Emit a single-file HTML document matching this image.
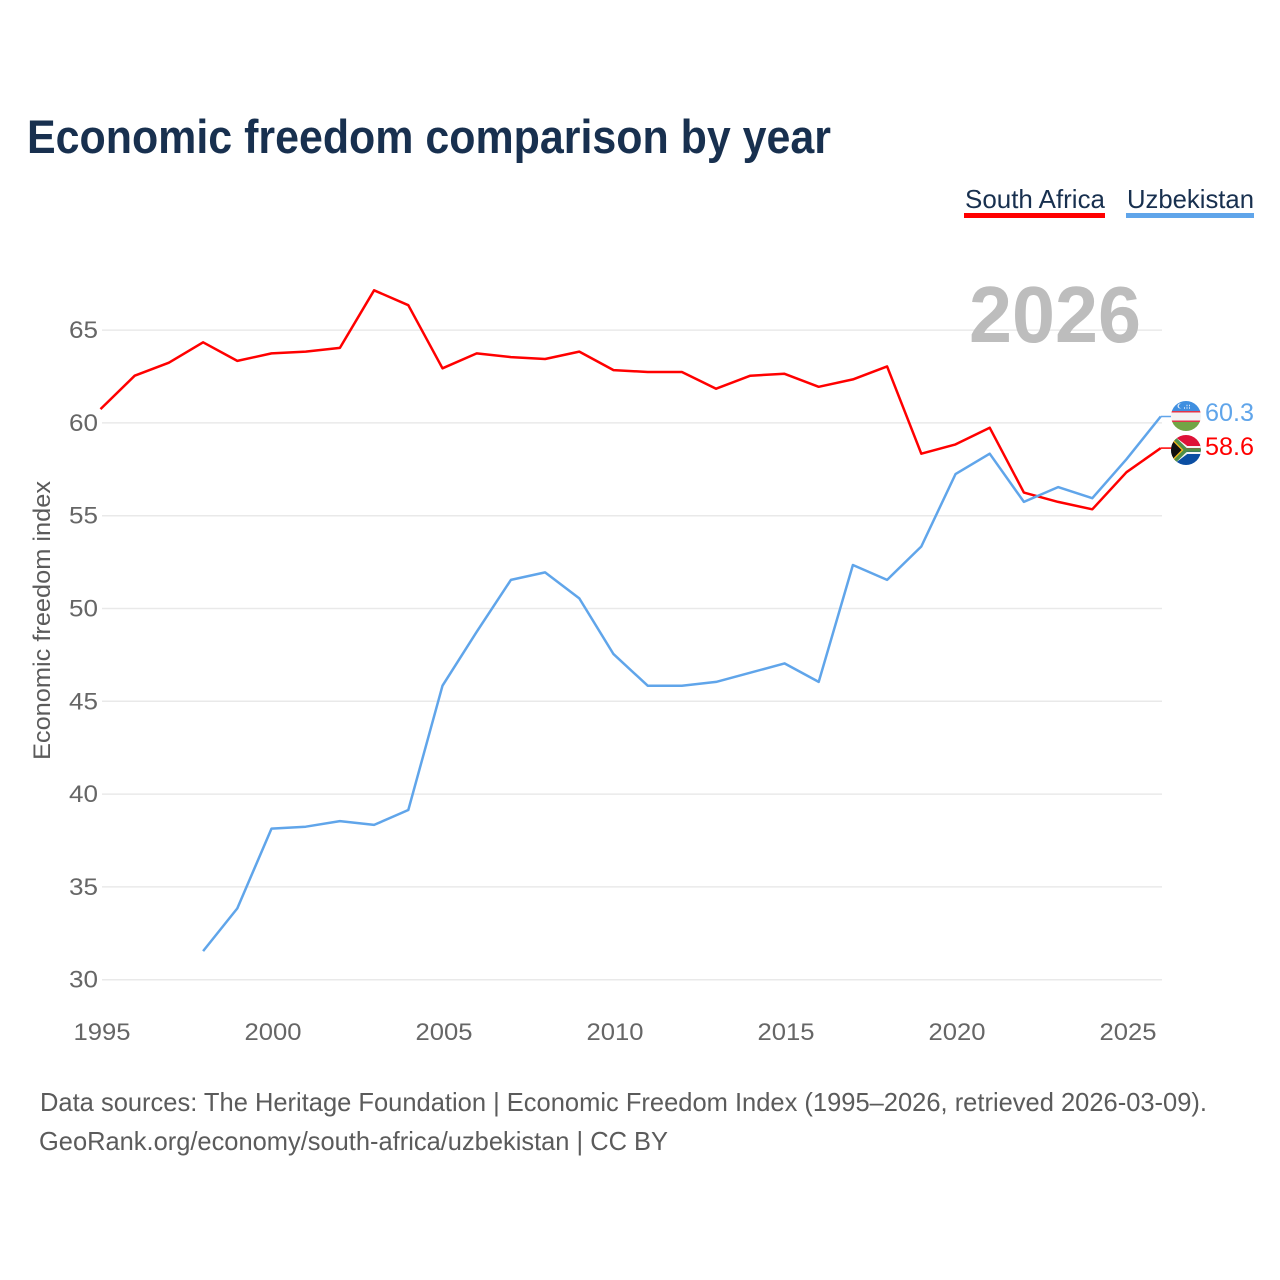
<!DOCTYPE html>
<html lang="en">
<head>
<meta charset="utf-8">
<title>Economic freedom comparison by year</title>
<style>
html,body{margin:0;padding:0;background:#fff;width:1280px;height:1280px;overflow:hidden}
svg{display:block}
text{font-family:"Liberation Sans",sans-serif}
</style>
</head>
<body>
<svg id="chart" width="1280" height="1280" viewBox="0 0 1280 1280" xmlns="http://www.w3.org/2000/svg">
  <defs>
    <clipPath id="clip-uz"><circle cx="1186" cy="416" r="15"/></clipPath>
    <clipPath id="clip-za"><circle cx="1186" cy="450" r="15"/></clipPath>
  </defs>
  <rect x="0" y="0" width="1280" height="1280" fill="#fff"/>
  <text x="27" y="153" font-size="47" font-weight="700" fill="#18304f" textLength="804" lengthAdjust="spacingAndGlyphs">Economic freedom comparison by year</text>

  <g id="grid"></g>
  <g id="yticks"></g>
  <g id="xticks"></g>

  <text transform="translate(50,760) rotate(-90)" font-size="24" fill="#5b5b5b" textLength="279" lengthAdjust="spacingAndGlyphs">Economic freedom index</text>
  <text x="969" y="342" font-size="80" font-weight="700" fill="#bdbdbd" textLength="172" lengthAdjust="spacingAndGlyphs">2026</text>

  <g>
    <g>
      <text x="965" y="208" font-size="26" fill="#18304f" textLength="140" lengthAdjust="spacingAndGlyphs">South Africa</text>
      <rect x="964" y="213" width="141" height="5" fill="#ff0000"/>
    </g>
    <g>
      <text x="1127" y="208" font-size="26" fill="#18304f" textLength="127" lengthAdjust="spacingAndGlyphs">Uzbekistan</text>
      <rect x="1126" y="213" width="128" height="5" fill="#60a5ea"/>
    </g>
  </g>

  <path id="line-za" fill="none" stroke="#ff0000" stroke-width="2.5" stroke-linejoin="round"/>
  <path id="line-uz" fill="none" stroke="#60a5ea" stroke-width="2.5" stroke-linejoin="round"/>
  <path id="conn-za" fill="none" stroke="#ff0000" stroke-width="1.5"/>
  <path id="conn-uz" fill="none" stroke="#60a5ea" stroke-width="1.5"/>

  <g clip-path="url(#clip-uz)">
    <rect x="1171" y="401" width="30" height="10" fill="#3f8fe0"/>
    <rect x="1171" y="411" width="30" height="1.5" fill="#e0354a"/>
    <rect x="1171" y="412.5" width="30" height="8" fill="#f3f3f3"/>
    <rect x="1171" y="420.5" width="30" height="1.5" fill="#e0354a"/>
    <rect x="1171" y="422" width="30" height="10" fill="#72a545"/>
    <circle cx="1180" cy="406" r="2.5" fill="#dfeaf7"/>
    <circle cx="1181" cy="406" r="2.2" fill="#3f8fe0"/>
    <path d="M1184 408h1M1186.5 408h1M1189 408h1M1186.5 405.500h1M1189 405.500h1" stroke="#dfeaf7" stroke-width="1.500"/>
  </g>
  <g clip-path="url(#clip-za)">
    <rect x="1171" y="435" width="30" height="15" fill="#de1238"/>
    <rect x="1171" y="450" width="30" height="15" fill="#0b4ea2"/>
    <path d="M1171 435L1186 450L1171 465Z" fill="#111"/>
    <path d="M1171 438L1183 450L1171 462" fill="none" stroke="#f4b81c" stroke-width="2"/>
    <path d="M1171 435L1187 447H1201V453H1187L1171 465" fill="none" stroke="#f5f5f5" stroke-width="2"/>
    <path d="M1173 437L1186 450H1201M1173 463L1186 450" fill="none" stroke="#4f8f46" stroke-width="3.500"/>
  </g>

  <text id="value-uz" x="1205" y="421" font-size="25" fill="#60a5ea" textLength="49" lengthAdjust="spacingAndGlyphs"></text>
  <text id="value-za" x="1205" y="455" font-size="25" fill="#ff0000" textLength="49" lengthAdjust="spacingAndGlyphs"></text>

  <text x="40" y="1111" font-size="26" fill="#5b5b5b" textLength="1167" lengthAdjust="spacingAndGlyphs">Data sources: The Heritage Foundation | Economic Freedom Index (1995–2026, retrieved 2026-03-09).</text>
  <text x="39" y="1150" font-size="26" fill="#5b5b5b" textLength="629" lengthAdjust="spacingAndGlyphs">GeoRank.org/economy/south-africa/uzbekistan | CC BY</text>
</svg>
<script>
const yTickValues = [30, 35, 40, 45, 50, 55, 60, 65];
const xTickYears = [1995, 2000, 2005, 2010, 2015, 2020, 2025];
const southAfricaStartYear = 1995;
const southAfricaValues = [60.7, 62.5, 63.2, 64.3, 63.3, 63.7, 63.8, 64.0, 67.1, 66.3, 62.9, 63.7, 63.5, 63.4, 63.8, 62.8, 62.7, 62.7, 61.8, 62.5, 62.6, 61.9, 62.3, 63.0, 58.3, 58.8, 59.7, 56.2, 55.7, 55.3, 57.3, 58.6];
const uzbekistanStartYear = 1998;
const uzbekistanValues = [31.5, 33.8, 38.1, 38.2, 38.5, 38.3, 39.1, 45.8, 48.7, 51.5, 51.9, 50.5, 47.5, 45.8, 45.8, 46.0, 46.5, 47.0, 46.0, 52.3, 51.5, 53.3, 57.2, 58.3, 55.7, 56.5, 55.9, 58.0, 60.3];

const SVG_NS = 'http://www.w3.org/2000/svg';
function xScale(year) { return 100.5 + (year - 1995) * 34.2; }
function yScale(v) { return 979.7 - (v - 30) * 18.56; }
function lineY(v) { return yScale(v) - 0.8; }
function linePath(startYear, values) {
  return values.map(function (v, i) {
    return (i ? 'L' : 'M') + xScale(startYear + i).toFixed(1) + ' ' + lineY(v).toFixed(1);
  }).join('');
}
function connector(value) {
  return 'M' + xScale(2026).toFixed(1) + ' ' + lineY(value).toFixed(1) + 'H1171';
}

const grid = document.getElementById('grid');
const yticks = document.getElementById('yticks');
yTickValues.forEach(function (v) {
  const ln = document.createElementNS(SVG_NS, 'line');
  
  
  ln.setAttribute('x1', 102);
  ln.setAttribute('x2', 1162);
  ln.setAttribute('y1', yScale(v));
  ln.setAttribute('y2', yScale(v));
  ln.setAttribute('stroke', '#e9e9e9');
  ln.setAttribute('stroke-width', '1.5');
  grid.appendChild(ln);
  const t = document.createElementNS(SVG_NS, 'text');
  
  
  t.setAttribute('x', 98);
  t.setAttribute('y', yScale(v) + 8);
  t.setAttribute('text-anchor', 'end');
  t.setAttribute('font-size', '24');
  t.setAttribute('fill', '#666');
  t.setAttribute('textLength', '29');
  t.setAttribute('lengthAdjust', 'spacingAndGlyphs');
  t.textContent = v;
  yticks.appendChild(t);
});

const xticks = document.getElementById('xticks');
xTickYears.forEach(function (y) {
  const t = document.createElementNS(SVG_NS, 'text');
  
  
  t.setAttribute('x', xScale(y) + 1.5);
  t.setAttribute('y', 1040);
  t.setAttribute('text-anchor', 'middle');
  t.setAttribute('font-size', '24');
  t.setAttribute('fill', '#666');
  t.setAttribute('textLength', '57');
  t.setAttribute('lengthAdjust', 'spacingAndGlyphs');
  t.textContent = y;
  xticks.appendChild(t);
});

document.getElementById('line-za').setAttribute('d', linePath(southAfricaStartYear, southAfricaValues));
document.getElementById('line-uz').setAttribute('d', linePath(uzbekistanStartYear, uzbekistanValues));
const lastZa = southAfricaValues[southAfricaValues.length - 1];
const lastUz = uzbekistanValues[uzbekistanValues.length - 1];
document.getElementById('conn-za').setAttribute('d', connector(lastZa));
document.getElementById('conn-uz').setAttribute('d', connector(lastUz));
document.getElementById('value-za').textContent = lastZa.toFixed(1);
document.getElementById('value-uz').textContent = lastUz.toFixed(1);
</script>
</body>
</html>
